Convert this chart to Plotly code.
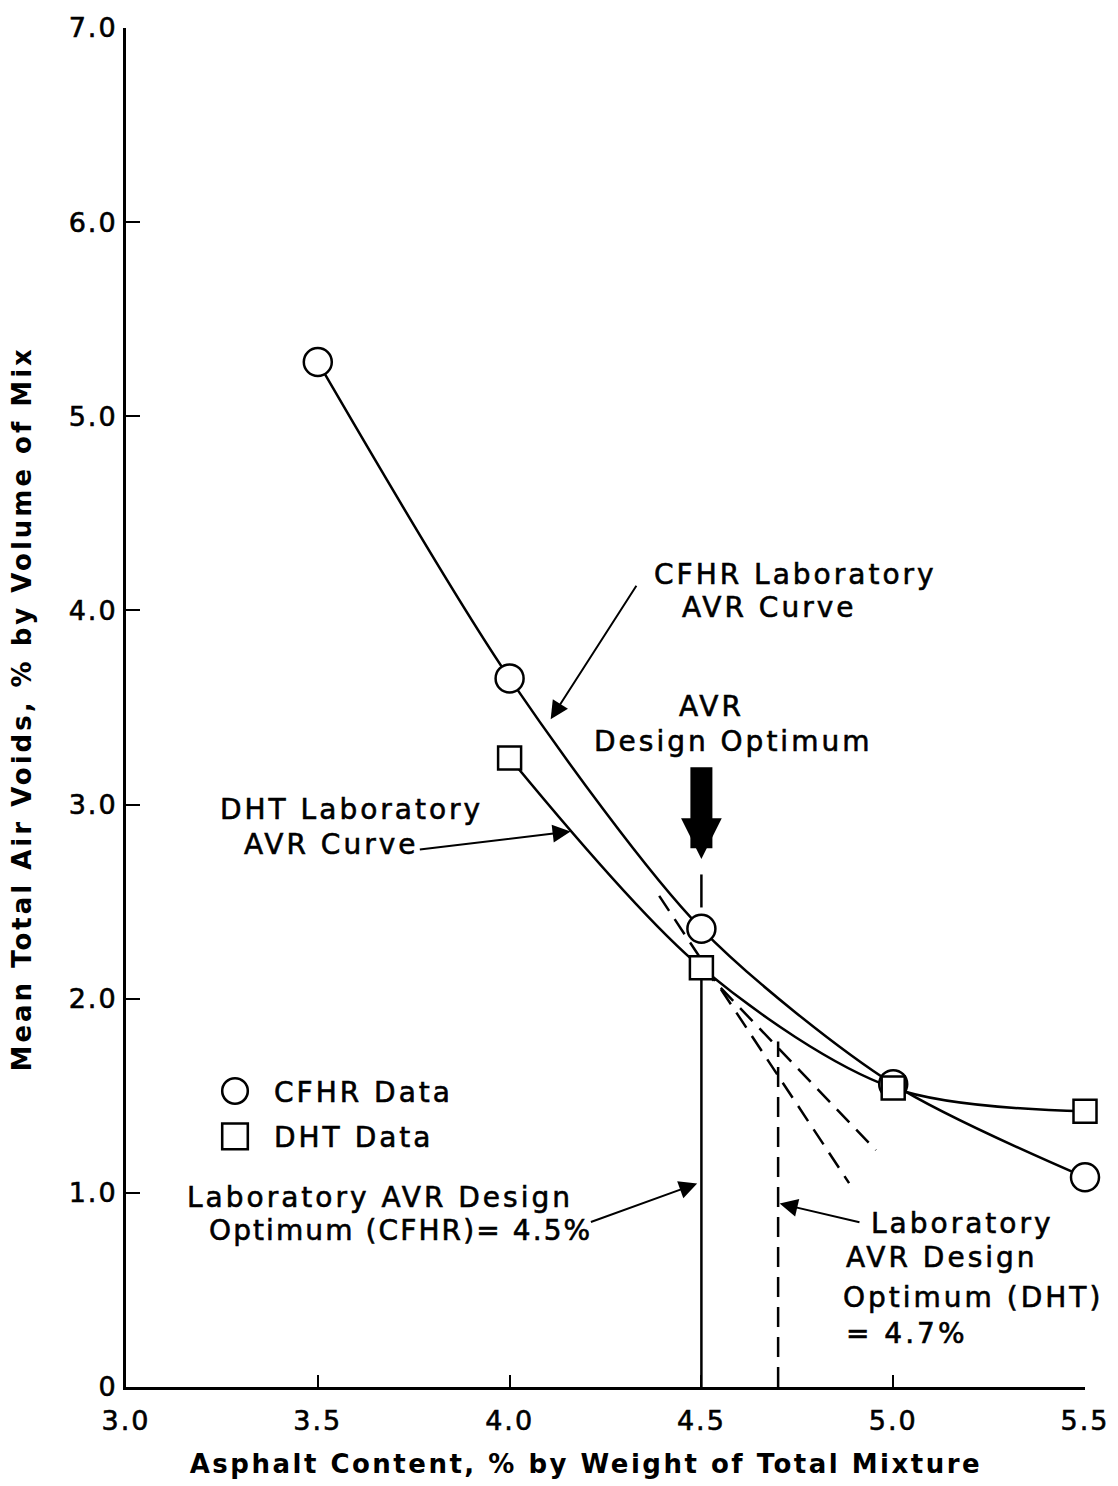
import plotly.graph_objects as go

# Mean total air voids vs. asphalt content
asphalt_cfhr = [3.5, 4.0, 4.5, 5.0, 5.5]
voids_cfhr = [5.28, 3.65, 2.36, 1.56, 1.08]

asphalt_dht = [4.0, 4.5, 5.0, 5.5]
voids_dht = [3.24, 2.16, 1.54, 1.42]

# design optima stated on the chart
cfhr_optimum = 4.5
dht_optimum = 4.7

# tangent construction lines
tangent_steep_x = [4.39, 4.885]
tangent_steep_y = [2.53, 1.05]
tangent_flat_x = [4.50, 4.955]
tangent_flat_y = [2.16, 1.22]
dht_tangent_meet = 1.78          # where the DHT construction meets x = 4.7
optimum_dash_y = [2.47, 2.64]    # short dash above the CFHR optimum point

x_ticks = [3.0, 3.5, 4.0, 4.5, 5.0, 5.5]
x_tick_text = ["3.0", "3.5", "4.0", "4.5", "5.0", "5.5"]
y_ticks = [0, 1, 2, 3, 4, 5, 6, 7]
y_tick_text = ["0", "1.0", "2.0", "3.0", "4.0", "5.0", "6.0", "7.0"]

FONT = "DejaVu Sans"
INK = "black"

fig = go.Figure()

# smooth AVR curves
fig.add_trace(go.Scatter(x=asphalt_cfhr, y=voids_cfhr, mode="lines",
                         line=dict(color=INK, width=2.5, shape="spline", smoothing=0.8),
                         showlegend=False, hoverinfo="skip"))
fig.add_trace(go.Scatter(x=asphalt_dht, y=voids_dht, mode="lines",
                         line=dict(color=INK, width=2.5, shape="spline", smoothing=0.9),
                         showlegend=False, hoverinfo="skip"))

# dashed tangent lines
for tx, ty in [(tangent_steep_x, tangent_steep_y), (tangent_flat_x, tangent_flat_y)]:
    fig.add_trace(go.Scatter(x=tx, y=ty, mode="lines",
                             line=dict(color=INK, width=2.5, dash="18px,10px"),
                             showlegend=False, hoverinfo="skip"))

# vertical optimum lines
fig.add_trace(go.Scatter(x=[cfhr_optimum, cfhr_optimum], y=[0, voids_dht[1]], mode="lines",
                         line=dict(color=INK, width=2.5), showlegend=False, hoverinfo="skip"))
fig.add_trace(go.Scatter(x=[dht_optimum, dht_optimum], y=[0, dht_tangent_meet], mode="lines",
                         line=dict(color=INK, width=2.5, dash="20px,10px"),
                         showlegend=False, hoverinfo="skip"))
fig.add_trace(go.Scatter(x=[cfhr_optimum, cfhr_optimum], y=optimum_dash_y, mode="lines",
                         line=dict(color=INK, width=2.5), showlegend=False, hoverinfo="skip"))

# data points
fig.add_trace(go.Scatter(x=asphalt_cfhr, y=voids_cfhr, mode="markers", name="CFHR Data",
                         legendgroup="a", cliponaxis=False,
                         marker=dict(symbol="circle", size=28, color="white",
                                     line=dict(color=INK, width=2.5))))
fig.add_trace(go.Scatter(x=asphalt_dht, y=voids_dht, mode="markers", name="DHT Data",
                         legendgroup="b", cliponaxis=False,
                         marker=dict(symbol="square", size=23, color="white",
                                     line=dict(color=INK, width=2.5))))

ann_font = dict(family=FONT, size=28, color=INK)


def label(text, x, y):
    return dict(text=text, x=x, y=y, xref="x", yref="y", showarrow=False,
                xanchor="left", yanchor="middle", align="left", font=ann_font)


def pointer(x, y, ax, ay, width=2, head=2, size=1.8):
    return dict(text="", x=x, y=y, ax=ax, ay=ay, xref="x", yref="y",
                axref="x", ayref="y", showarrow=True, arrowhead=head,
                arrowsize=size, arrowwidth=width, arrowcolor=INK, standoff=0)


annotations = [
    label("CFHR Laboratory", 4.372, 4.186),
    label("AVR Curve", 4.445, 4.016),
    label("AVR", 4.437, 3.503),
    label("Design Optimum", 4.216, 3.323),
    label("DHT Laboratory", 3.239, 2.974),
    label("AVR Curve", 3.303, 2.794),
    label("Laboratory AVR Design", 3.153, 0.976),
    label(f"Optimum (CFHR)= {cfhr_optimum}%", 3.210, 0.806),
    label("Laboratory", 4.937, 0.842),
    label("AVR Design", 4.872, 0.668),
    label("Optimum (DHT)", 4.865, 0.462),
    label(f"= {dht_optimum}%", 4.872, 0.277),
    pointer(4.107, 3.44, 4.333, 4.135),
    pointer(4.159, 2.861, 3.762, 2.768),
    pointer(4.489, 1.048, 4.208, 0.847),
    pointer(4.704, 0.945, 4.916, 0.847),
    pointer(cfhr_optimum, 2.72, cfhr_optimum, 3.20, width=22, head=2, size=0.37),
    # axis titles
    dict(text="<b>Asphalt Content, % by Weight of Total Mixture</b>", x=0.480, y=-0.057,
         xref="paper", yref="paper", showarrow=False, xanchor="center", yanchor="middle",
         font=dict(family=FONT, size=26, color=INK)),
    dict(text="<b>Mean Total Air Voids, % by Volume of Mix</b>", x=-0.108, y=0.4996,
         xref="paper", yref="paper", showarrow=False, xanchor="center", yanchor="middle",
         textangle=-90, font=dict(family=FONT, size=26, color=INK)),
]

fig.update_layout(
    width=1118, height=1486,
    margin=dict(l=126, r=28, t=24, b=99),
    paper_bgcolor="white", plot_bgcolor="white",
    font=dict(family=FONT, color=INK, size=28),
    annotations=annotations,
    showlegend=True,
    legend=dict(x=0.073, y=0.236, xanchor="left", yanchor="top",
                bgcolor="rgba(0,0,0,0)", font=dict(family=FONT, size=28, color=INK),
                tracegroupgap=6, itemsizing="trace", itemwidth=68),
)

fig.update_xaxes(range=[3.0, 5.5], tickvals=x_ticks, ticktext=x_tick_text,
                 showline=True, linecolor=INK, linewidth=3, showgrid=False, zeroline=False,
                 ticks="inside", ticklen=12, tickwidth=2, tickcolor=INK,
                 ticklabelstandoff=8, tickfont=dict(family=FONT, size=27, color=INK))
fig.update_yaxes(range=[0, 7.0], tickvals=y_ticks, ticktext=y_tick_text,
                 showline=True, linecolor=INK, linewidth=3, showgrid=False, zeroline=False,
                 ticks="inside", ticklen=14, tickwidth=2, tickcolor=INK,
                 ticklabelstandoff=0, tickfont=dict(family=FONT, size=27, color=INK))

# widen and thicken the lettering, enlarge legend keys, after the plot is drawn
spacing_js = """
var gd = document.getElementById('{plot_id}');
function heavy(t, w) { t.style.stroke = 'black'; t.style.strokeWidth = w; }
gd.querySelectorAll('.annotation-text').forEach(function(t){
  var s = t.textContent;
  if (s.indexOf('Asphalt') === 0) { t.style.letterSpacing = '2.5px'; }
  else if (s.indexOf('Mean') === 0) { t.style.letterSpacing = '3px'; }
  else if (s.indexOf('Optimum (CFHR)') === 0) { t.style.letterSpacing = '2.1px'; heavy(t, '0.6px'); }
  else { t.style.letterSpacing = '3px'; heavy(t, '0.6px'); }
});
gd.querySelectorAll('.xtick text, .ytick text').forEach(function(t){
  t.style.letterSpacing = '2px'; heavy(t, '0.6px');
});
gd.querySelectorAll('.legendtext').forEach(function(t){
  t.style.letterSpacing = '3px'; heavy(t, '0.6px');
});
gd.querySelectorAll('.legend [clip-path]').forEach(function(e){ e.removeAttribute('clip-path'); });
gd.querySelectorAll('.legend .legendpoints path').forEach(function(p){
  var tr = p.getAttribute('transform') || '';
  p.setAttribute('transform', tr + ' scale(1.6)');
  p.style.strokeWidth = '1.6px';
});
"""

fig.write_html("out.html", post_script=spacing_js)
